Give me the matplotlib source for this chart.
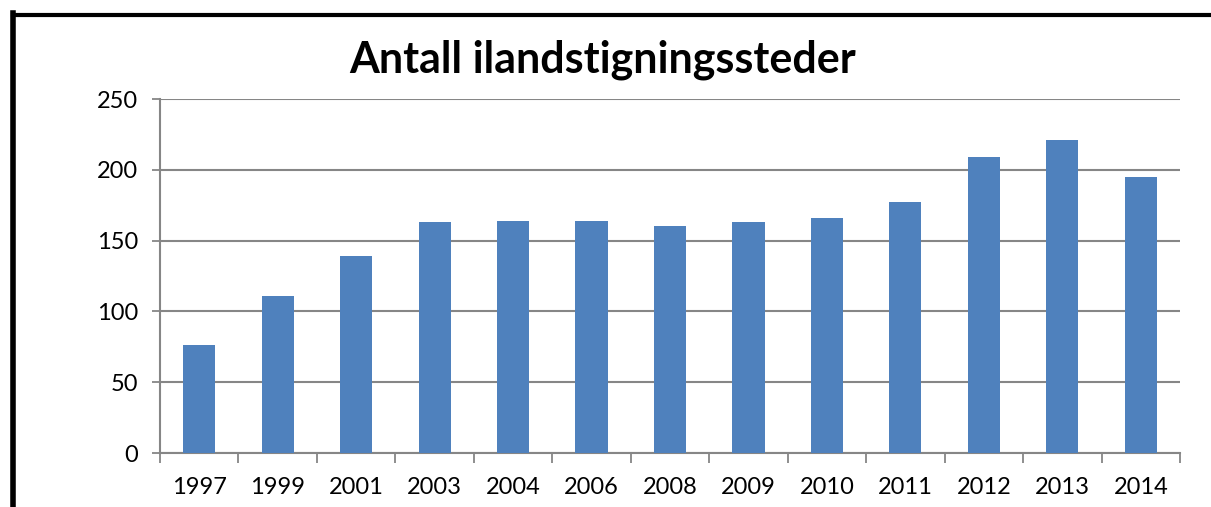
import matplotlib
matplotlib.use("Agg")
import matplotlib.pyplot as plt
from matplotlib.lines import Line2D

years = ["1997", "1999", "2001", "2003", "2004", "2006", "2008",
         "2009", "2010", "2011", "2012", "2013", "2014"]
counts = [76, 111, 139, 163, 164, 164, 160, 163, 166, 177, 209, 221, 195]
y_ticks = [0, 50, 100, 150, 200, 250]

W, H = 1211, 507
plt.rcParams['font.family'] = ['Lato', 'DejaVu Sans']

fig = plt.figure(figsize=(W / 100, H / 100), dpi=100)
ax = fig.add_axes([160 / W, 1 - 453 / H, (1180 - 160) / W, (453 - 99) / H])

x = list(range(len(years)))
ax.bar(x, counts, width=0.41, color='#4F81BD', zorder=3)

ax.set_xlim(-0.5, len(years) - 0.5)
ax.set_ylim(0, 250)
ax.set_yticks(y_ticks)
ax.set_yticklabels([str(v) for v in y_ticks], fontsize=17)
ax.set_xticks(x)
ax.set_xticklabels(years, fontsize=17)
ax.tick_params(axis='x', length=0, pad=17)
ax.tick_params(axis='y', length=6, width=1.3, color='#868686', pad=10)

# category boundary ticks on x axis
ax.set_xticks([i - 0.5 for i in range(len(years) + 1)], minor=True)
ax.tick_params(axis='x', which='minor', length=7, width=1.3, color='#868686')

ax.grid(axis='y', color='#868686', linewidth=1.5, zorder=0)
for side in ['top', 'right']:
    ax.spines[side].set_visible(False)
for side in ['left', 'bottom']:
    ax.spines[side].set_color('#868686')
    ax.spines[side].set_linewidth(1.5)

fig.text(603 / W, 1 - 72 / H, "Antall ilandstigningssteder", ha='center',
         va='baseline', fontsize=31, fontweight='bold')

# outer frame (left and top edges)
fig.add_artist(Line2D([12.5 / W, 12.5 / W], [0, 1 - 13 / H], color='black',
                      linewidth=4, transform=fig.transFigure, solid_capstyle='projecting'))
fig.add_artist(Line2D([12.5 / W, 1], [1 - 14.5 / H, 1 - 14.5 / H], color='black',
                      linewidth=3, transform=fig.transFigure))

fig.savefig("out.png", dpi=100)
